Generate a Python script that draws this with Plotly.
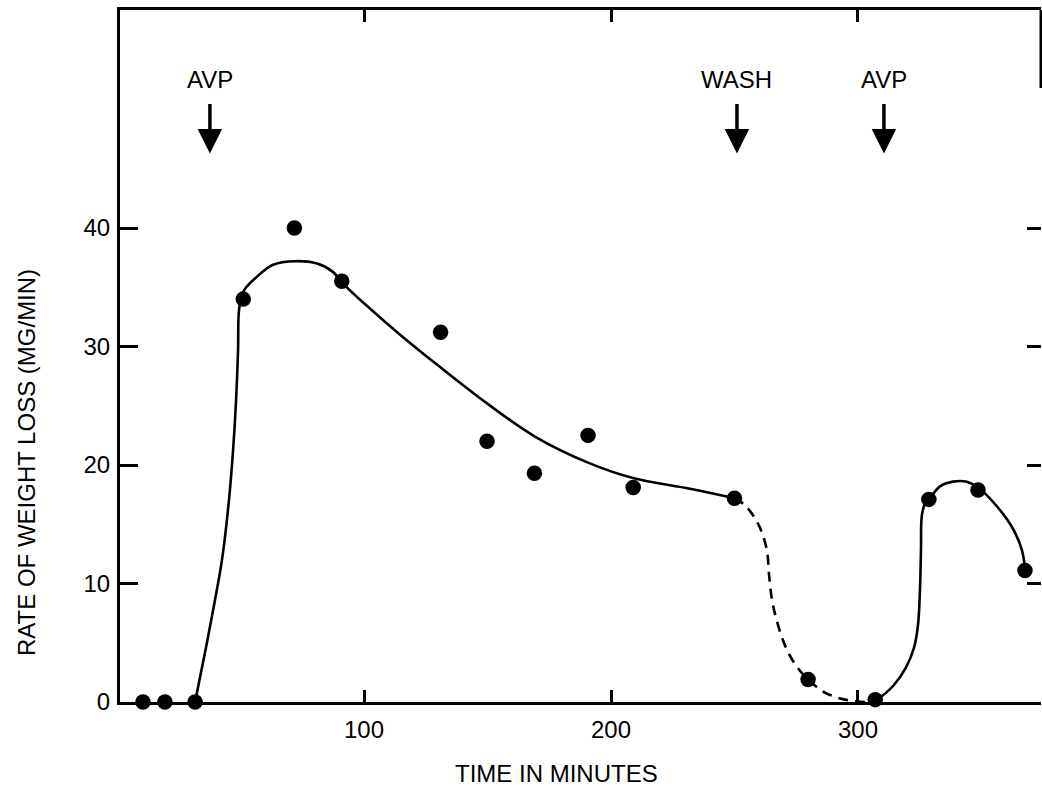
import plotly.graph_objects as go

# ---- data ----
time_min = [10.5, 19.4, 31.6, 51.1, 71.8, 91, 131, 149.8, 169, 190.7, 209, 250, 279.8, 307, 328.7, 348.6, 367.6]
rate = [0, 0, 0, 34.0, 40.0, 35.5, 31.2, 22.0, 19.3, 22.5, 18.1, 17.2, 1.9, 0.2, 17.1, 17.9, 11.1]

# hand-drawn fitted curve, first response
fit1_x = [31.6, 34.0, 36.4, 39.3, 42.5, 45.3, 47.0, 48.2, 49.0, 49.4, 51.0, 56.7, 63.2, 72.1, 81.0, 87.4, 91.1,
          100.8, 114.6, 131.2, 149.8, 169.2, 190.7, 208.9, 232.0, 250.0]
fit1_y = [0.0, 2.5, 5.0, 8.2, 12.0, 17.0, 21.3, 25.5, 29.7, 33.1, 34.6, 35.9, 36.9, 37.2, 37.0, 36.3, 35.4,
          33.5, 31.0, 28.2, 25.2, 22.4, 20.2, 18.9, 18.0, 17.2]
# dashed curve after the wash
wash_x = [250.0, 254.3, 258.3, 261.1, 263.2, 264.0, 265.2, 267.2, 270.4, 274.5, 279.8, 286.6, 294.7, 302.8, 307.0]
wash_y = [17.2, 16.6, 15.5, 14.3, 12.7, 10.7, 8.6, 6.8, 4.8, 3.2, 1.9, 0.8, 0.2, 0.0, 0.1]
# second response
fit2_x = [307.3, 314.2, 319.4, 322.7, 324.3, 325.1, 325.5, 325.9, 327.5, 328.7, 333.2, 338.5, 343.7, 348.6, 356.3, 362.8, 366.4, 367.6]
fit2_y = [0.1, 1.35, 2.9, 4.6, 6.5, 9.5, 12.8, 15.8, 16.9, 17.1, 18.2, 18.6, 18.6, 18.1, 16.5, 14.6, 12.8, 11.3]

event_labels = ["AVP", "WASH", "AVP"]
event_times = [37.6, 251, 310.5]

x_ticks = [100, 200, 300]
y_ticks = [0, 10, 20, 30, 40]

FONT = "Liberation Sans, Arial, Helvetica, sans-serif"

fig = go.Figure()
curve_line = dict(color="black", width=2.6, shape="spline", smoothing=1.0)
fig.add_trace(go.Scatter(x=fit1_x, y=fit1_y, mode="lines", line=curve_line, cliponaxis=False, hoverinfo="skip"))
fig.add_trace(go.Scatter(x=wash_x, y=wash_y, mode="lines", line=dict(curve_line, dash="10px,7px"),
                         cliponaxis=False, hoverinfo="skip"))
fig.add_trace(go.Scatter(x=fit2_x, y=fit2_y, mode="lines", line=curve_line, cliponaxis=False, hoverinfo="skip"))
fig.add_trace(go.Scatter(x=time_min, y=rate, mode="markers", marker=dict(color="black", size=15.5),
                         cliponaxis=False))
# invisible trace for the right-hand tick axis
fig.add_trace(go.Scatter(x=[time_min[0]], y=[rate[0]], yaxis="y2", mode="markers",
                         marker=dict(opacity=0), hoverinfo="skip"))

for lab, t in zip(event_labels, event_times):
    fig.add_annotation(x=t, y=52.5, text=lab, showarrow=False,
                       font=dict(family=FONT, size=24, color="black"))
    fig.add_annotation(x=t, y=46.3, ax=t, ay=50.6, axref="x", ayref="y", text="",
                       showarrow=True, arrowhead=2, arrowwidth=3.5, arrowsize=1.4, arrowcolor="black")

fig.add_annotation(xref="paper", yref="paper", x=(556 - 120) / 921, y=(702 - 773) / 692,
                   text="TIME IN MINUTES", showarrow=False, yanchor="middle", xanchor="center",
                   font=dict(family=FONT, size=24, color="black"))
fig.add_annotation(xref="paper", yref="paper", x=(26 - 120) / 921, y=(702 - 463) / 692,
                   text="RATE OF WEIGHT LOSS (MG/MIN)", textangle=-90, showarrow=False,
                   xanchor="center", yanchor="middle",
                   font=dict(family=FONT, size=24, color="black"))

# partial right frame line (rest is lost at the edge of the scan)
fig.add_shape(type="line", xref="paper", yref="paper", x0=1, x1=1, y0=1, y1=(702 - 88) / 692,
              line=dict(color="black", width=3))

fig.update_layout(
    width=1042, height=794,
    margin=dict(l=120, r=1, t=10, b=92),
    plot_bgcolor="white", paper_bgcolor="white",
    showlegend=False,
    font=dict(family=FONT, size=24, color="black"),
    xaxis=dict(range=[1.2, 374.1], tickvals=x_ticks, ticks="inside", ticklen=12, tickwidth=3,
               tickcolor="black", showline=True, linewidth=3, linecolor="black", mirror="ticks",
               showgrid=False, zeroline=False, ticklabelstandoff=4,
               tickfont=dict(family=FONT, size=24, color="black")),
    yaxis=dict(range=[0, 58.4], tickvals=y_ticks, ticks="inside", ticklen=18, tickwidth=3,
               tickcolor="black", showline=True, linewidth=3, linecolor="black",
               showgrid=False, zeroline=False, ticklabelstandoff=2,
               tickfont=dict(family=FONT, size=24, color="black")),
    yaxis2=dict(range=[0, 58.4], overlaying="y", side="right", tickvals=y_ticks[1:], ticks="inside",
                ticklen=14, tickwidth=3, tickcolor="black", showticklabels=False, showline=False,
                showgrid=False, zeroline=False),
)

fig.write_html("out.html")
